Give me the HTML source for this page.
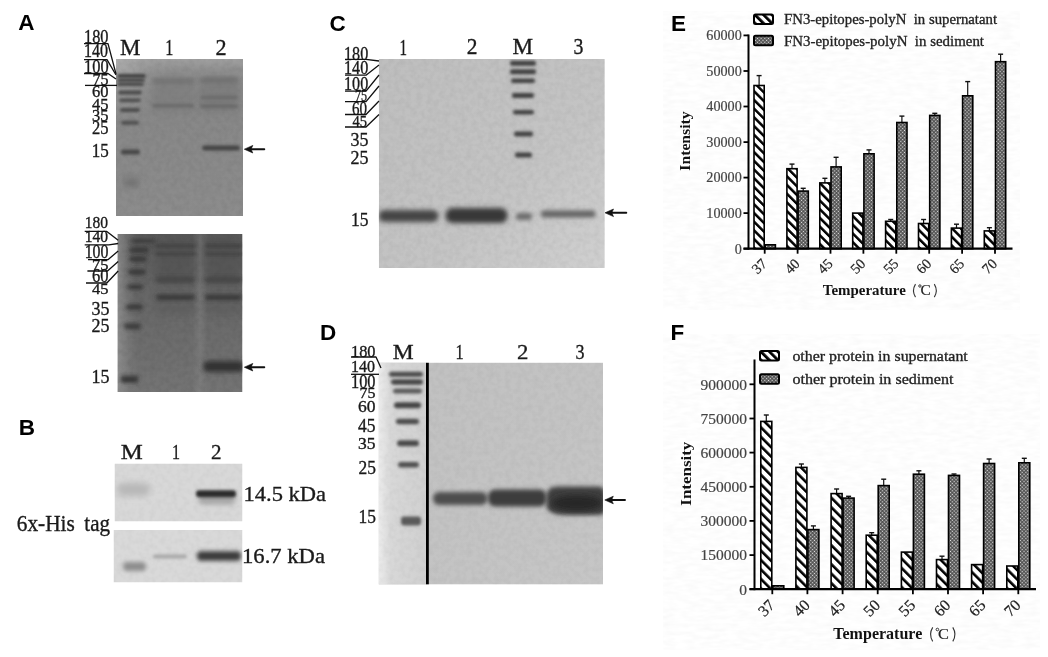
<!DOCTYPE html>
<html><head><meta charset="utf-8">
<style>
html,body{margin:0;padding:0;background:#fff;width:1048px;height:657px;overflow:hidden}
svg{display:block;will-change:transform}
.ps{font-family:"Liberation Sans",sans-serif;font-weight:bold;font-size:22.5px;fill:#000}
.sf{font-family:"Liberation Serif",serif}
.sb{font-family:"Liberation Serif",serif;font-weight:bold}
</style></head><body>
<svg width="1048" height="657" viewBox="0 0 1048 657">
<defs>
<clipPath id="cA1"><rect x="116" y="59" width="127" height="157"/></clipPath>
<clipPath id="cA2"><rect x="117.5" y="234" width="125" height="158"/></clipPath>
<clipPath id="cB1"><rect x="114.5" y="463.5" width="128" height="58"/></clipPath>
<clipPath id="cB2"><rect x="113.5" y="530" width="129" height="52.5"/></clipPath>
<clipPath id="cC"><rect x="378.8" y="59" width="226" height="209"/></clipPath>
<clipPath id="cD"><rect x="378.6" y="362.6" width="224.4" height="222"/></clipPath>
<filter id="g14" x="-50%" y="-100%" width="200%" height="300%"><feGaussianBlur stdDeviation="1.4"/></filter>
<filter id="g15" x="-50%" y="-100%" width="200%" height="300%"><feGaussianBlur stdDeviation="1.5"/></filter>
<filter id="g16" x="-50%" y="-100%" width="200%" height="300%"><feGaussianBlur stdDeviation="1.6"/></filter>
<filter id="g18" x="-50%" y="-100%" width="200%" height="300%"><feGaussianBlur stdDeviation="1.8"/></filter>
<filter id="g19" x="-50%" y="-100%" width="200%" height="300%"><feGaussianBlur stdDeviation="1.9"/></filter>
<filter id="g20" x="-50%" y="-100%" width="200%" height="300%"><feGaussianBlur stdDeviation="2.0"/></filter>
<filter id="g22" x="-50%" y="-100%" width="200%" height="300%"><feGaussianBlur stdDeviation="2.2"/></filter>
<filter id="g24" x="-50%" y="-100%" width="200%" height="300%"><feGaussianBlur stdDeviation="2.4"/></filter>
<filter id="g25" x="-50%" y="-100%" width="200%" height="300%"><feGaussianBlur stdDeviation="2.5"/></filter>
<filter id="g28" x="-50%" y="-100%" width="200%" height="300%"><feGaussianBlur stdDeviation="2.8"/></filter>
<filter id="g30" x="-50%" y="-100%" width="200%" height="300%"><feGaussianBlur stdDeviation="3.0"/></filter>
<filter id="g40" x="-50%" y="-100%" width="200%" height="300%"><feGaussianBlur stdDeviation="4.0"/></filter>
<filter id="g50" x="-50%" y="-100%" width="200%" height="300%"><feGaussianBlur stdDeviation="5.0"/></filter>
<pattern id="hatchE" patternUnits="userSpaceOnUse" width="6.15" height="6.15" patternTransform="rotate(-45)"><rect width="6.15" height="6.15" fill="#fff"/><rect width="2.5" height="6.15" fill="#000"/></pattern>
<pattern id="hatchF" patternUnits="userSpaceOnUse" width="6.7" height="6.7" patternTransform="rotate(-45)"><rect width="6.7" height="6.7" fill="#fff"/><rect width="2.6" height="6.7" fill="#000"/></pattern>
<pattern id="hatchL" patternUnits="userSpaceOnUse" width="6" height="6" patternTransform="rotate(-45)"><rect width="6" height="6" fill="#fff"/><rect width="2.8" height="6" fill="#000"/></pattern>
<pattern id="dots" patternUnits="userSpaceOnUse" width="2.6" height="2.6" patternTransform="rotate(45)"><rect width="2.6" height="2.6" fill="#4a4a4a"/><rect x="0.6" y="0.6" width="1.3" height="1.3" fill="#e8e8e8"/></pattern>
<linearGradient id="gA1" x1="0" y1="0" x2="0" y2="1">
<stop offset="0" stop-color="#a0a0a0"/><stop offset="0.07" stop-color="#909090"/><stop offset="0.4" stop-color="#888"/><stop offset="1" stop-color="#8c8c8c"/></linearGradient>
<radialGradient id="gA1b" cx="0" cy="0" r="0.4"><stop offset="0" stop-color="#b4b4b4" stop-opacity="0.8"/><stop offset="1" stop-color="#999" stop-opacity="0"/></radialGradient>
<linearGradient id="gA2" x1="0" y1="0" x2="0" y2="1">
<stop offset="0" stop-color="#5c5c5c"/><stop offset="0.45" stop-color="#686868"/><stop offset="1" stop-color="#747474"/></linearGradient>
<linearGradient id="gA2b" x1="0" y1="0" x2="1" y2="0">
<stop offset="0" stop-color="#9a9a9a" stop-opacity="0.7"/><stop offset="0.15" stop-color="#8a8a8a" stop-opacity="0"/><stop offset="0.6" stop-color="#888" stop-opacity="0"/><stop offset="0.66" stop-color="#8a8a8a" stop-opacity="0.4"/><stop offset="0.72" stop-color="#888" stop-opacity="0"/></linearGradient>
<linearGradient id="gC" x1="0" y1="0" x2="1" y2="1">
<stop offset="0" stop-color="#bebebe"/><stop offset="0.6" stop-color="#c4c4c4"/><stop offset="1" stop-color="#d0d0d0"/></linearGradient>
<filter id="noise2" x="0" y="0" width="100%" height="100%"><feTurbulence type="fractalNoise" baseFrequency="0.08 0.25" numOctaves="2" seed="7"/><feColorMatrix type="matrix" values="0 0 0 0 0  0 0 0 0 0  0 0 0 0 0  0 0 0 1.8 -0.5"/></filter>
<filter id="noise" x="0" y="0" width="100%" height="100%"><feTurbulence type="fractalNoise" baseFrequency="0.18" numOctaves="2" seed="3"/><feColorMatrix type="matrix" values="0 0 0 0 0  0 0 0 0 0  0 0 0 0 0  0 0 0 1.6 -0.55"/></filter>
<linearGradient id="gD" x1="0" y1="0" x2="1" y2="1">
<stop offset="0" stop-color="#c0c0c0"/><stop offset="1" stop-color="#c6c6c6"/></linearGradient>
<linearGradient id="gDm" x1="0" y1="0" x2="1" y2="0">
<stop offset="0" stop-color="#ececec"/><stop offset="0.25" stop-color="#d8d8d8"/><stop offset="1" stop-color="#d0d0d0"/></linearGradient>
</defs>
<rect width="1048" height="657" fill="#fff"/>
<text class="ps" x="18.3" y="30.0">A</text>
<text class="ps" x="18.8" y="435">B</text>
<text class="ps" x="329.5" y="30.6">C</text>
<text class="ps" x="320" y="340">D</text>
<text class="ps" x="671" y="30.7">E</text>
<text class="ps" x="670.5" y="339.8">F</text>
<g clip-path="url(#cA1)">
<rect x="116" y="59" width="127" height="157" fill="url(#gA1)"/>
<rect x="116" y="59" width="127" height="157" fill="url(#gA1b)"/>
<rect x="116" y="59" width="127" height="157" fill="#000" opacity="0.06" filter="url(#noise)"/>
<rect x="150.0" y="77.0" width="46.0" height="36.0" rx="4.0" fill="#737373" opacity="0.45" filter="url(#g40)"/>
<rect x="199.0" y="77.0" width="41.0" height="36.0" rx="4.0" fill="#707070" opacity="0.5" filter="url(#g40)"/>
<rect x="117.0" y="74.0" width="29.0" height="4.0" rx="2.0" fill="#404040" opacity="1" filter="url(#g14)"/>
<rect x="117.0" y="78.5" width="28.0" height="3.5" rx="2.0" fill="#444" opacity="1" filter="url(#g14)"/>
<rect x="117.0" y="82.5" width="27.0" height="3.5" rx="2.0" fill="#454545" opacity="1" filter="url(#g14)"/>
<rect x="118.0" y="90.6" width="24.0" height="4.0" rx="2.0" fill="#474747" opacity="1" filter="url(#g14)"/>
<rect x="119.0" y="98.5" width="22.0" height="3.5" rx="2.0" fill="#4a4a4a" opacity="1" filter="url(#g14)"/>
<rect x="120.0" y="108.0" width="20.0" height="4.0" rx="2.0" fill="#484848" opacity="1" filter="url(#g14)"/>
<rect x="121.0" y="120.8" width="18.0" height="4.0" rx="2.0" fill="#4e4e4e" opacity="1" filter="url(#g14)"/>
<rect x="121.0" y="149.5" width="19.0" height="5.0" rx="2.0" fill="#474747" opacity="1" filter="url(#g14)"/>
<rect x="124.0" y="178.0" width="15.0" height="9.0" rx="4.0" fill="#6e6e6e" opacity="0.9" filter="url(#g30)"/>
<rect x="152.0" y="78.5" width="42.0" height="5.0" rx="2.0" fill="#6a6a6a" opacity="0.7" filter="url(#g20)"/>
<rect x="152.0" y="104.0" width="42.0" height="3.5" rx="2.0" fill="#686868" opacity="0.9" filter="url(#g16)"/>
<rect x="200.0" y="77.5" width="38.0" height="5.0" rx="2.0" fill="#666" opacity="0.7" filter="url(#g20)"/>
<rect x="200.0" y="95.8" width="38.0" height="3.5" rx="2.0" fill="#666" opacity="0.8" filter="url(#g16)"/>
<rect x="200.0" y="104.5" width="38.0" height="3.5" rx="2.0" fill="#666" opacity="0.9" filter="url(#g16)"/>
<rect x="202.0" y="145.5" width="38.0" height="5.0" rx="3.0" fill="#454545" opacity="1" filter="url(#g18)"/>
</g>
<line x1="249.3" y1="149.2" x2="264.3" y2="149.2" stroke="#111" stroke-width="1.9" stroke-linecap="round"/>
<path d="M244.3 149.2 L252.8 145.39999999999998 L251.10000000000002 149.2 L252.8 153.0 Z" fill="#111" stroke="#111" stroke-width="0.6" stroke-linejoin="round"/>
<g clip-path="url(#cA2)">
<rect x="117.5" y="234" width="125" height="158" fill="url(#gA2)"/>
<rect x="117.5" y="234" width="125" height="158" fill="url(#gA2b)"/>
<rect x="117.5" y="234" width="125" height="158" fill="#000" opacity="0.07" filter="url(#noise)"/>
<rect x="155.0" y="235.0" width="41.0" height="50.0" rx="6.0" fill="#4a4a4a" opacity="0.45" filter="url(#g50)"/>
<rect x="205.0" y="235.0" width="37.0" height="50.0" rx="6.0" fill="#4a4a4a" opacity="0.45" filter="url(#g50)"/>
<rect x="155.0" y="303.0" width="41.0" height="12.0" rx="4.0" fill="#555" opacity="0.4" filter="url(#g30)"/>
<rect x="205.0" y="303.0" width="37.0" height="12.0" rx="4.0" fill="#555" opacity="0.4" filter="url(#g30)"/>
<rect x="130.7" y="239.2" width="24.6" height="3.5" rx="3.0" fill="#303030" opacity="1" filter="url(#g20)"/>
<rect x="129.4" y="247.5" width="19.6" height="5.0" rx="3.0" fill="#303030" opacity="1" filter="url(#g20)"/>
<rect x="129.0" y="256.5" width="18.0" height="5.0" rx="3.0" fill="#303030" opacity="1" filter="url(#g20)"/>
<rect x="128.0" y="269.5" width="18.0" height="5.0" rx="3.0" fill="#303030" opacity="1" filter="url(#g20)"/>
<rect x="127.0" y="284.8" width="16.0" height="4.5" rx="3.0" fill="#303030" opacity="1" filter="url(#g20)"/>
<rect x="126.0" y="304.5" width="17.0" height="5.0" rx="3.0" fill="#303030" opacity="1" filter="url(#g20)"/>
<rect x="124.0" y="323.8" width="17.0" height="5.0" rx="3.0" fill="#303030" opacity="1" filter="url(#g20)"/>
<rect x="120.5" y="376.1" width="18.0" height="6.5" rx="3.0" fill="#303030" opacity="1" filter="url(#g20)"/>
<rect x="155.0" y="244.0" width="41.0" height="4.0" rx="2.0" fill="#3c3c3c" opacity="0.7" filter="url(#g18)"/>
<rect x="205.0" y="244.0" width="37.0" height="4.0" rx="2.0" fill="#3c3c3c" opacity="0.7" filter="url(#g18)"/>
<rect x="155.0" y="252.0" width="41.0" height="4.0" rx="2.0" fill="#3c3c3c" opacity="0.6" filter="url(#g18)"/>
<rect x="205.0" y="252.0" width="37.0" height="4.0" rx="2.0" fill="#3c3c3c" opacity="0.6" filter="url(#g18)"/>
<rect x="156.0" y="277.6" width="39.0" height="4.5" rx="2.0" fill="#404040" opacity="0.9" filter="url(#g19)"/>
<rect x="205.0" y="277.6" width="37.0" height="4.5" rx="2.0" fill="#404040" opacity="0.9" filter="url(#g19)"/>
<rect x="156.0" y="294.6" width="39.0" height="5.5" rx="2.0" fill="#363636" opacity="1" filter="url(#g19)"/>
<rect x="205.0" y="294.6" width="37.0" height="5.5" rx="2.0" fill="#363636" opacity="1" filter="url(#g19)"/>
<rect x="203.0" y="361.0" width="41.0" height="11.0" rx="5.0" fill="#333" opacity="1" filter="url(#g28)"/>
</g>
<line x1="249.3" y1="367.2" x2="264.3" y2="367.2" stroke="#111" stroke-width="1.9" stroke-linecap="round"/>
<path d="M244.3 367.2 L252.8 363.4 L251.10000000000002 367.2 L252.8 371.0 Z" fill="#111" stroke="#111" stroke-width="0.6" stroke-linejoin="round"/>
<g clip-path="url(#cB1)">
<rect x="114.5" y="463.5" width="128" height="58" fill="#d8d8d8"/>
<rect x="114.5" y="463.5" width="128" height="58" fill="#000" opacity="0.03" filter="url(#noise)"/>
<rect x="117.0" y="483.0" width="33.0" height="13.0" rx="6.0" fill="#b8b8b8" opacity="1" filter="url(#g30)"/>
<rect x="199.0" y="493.5" width="36.0" height="11.0" rx="4.0" fill="#9a9a9a" opacity="0.8" filter="url(#g25)"/>
<rect x="196.0" y="490.3" width="40.0" height="7.0" rx="3.0" fill="#2a2a2a" opacity="1" filter="url(#g15)"/>
</g>
<g clip-path="url(#cB2)">
<rect x="113.5" y="530" width="129" height="52.5" fill="#d9d9d9"/>
<rect x="113.5" y="530" width="129" height="52.5" fill="#000" opacity="0.03" filter="url(#noise)"/>
<rect x="153.0" y="554.5" width="34.0" height="4.0" rx="2.0" fill="#a8a8a8" opacity="1" filter="url(#g15)"/>
<rect x="197.0" y="551.2" width="44.0" height="9.5" rx="4.0" fill="#3a3a3a" opacity="1" filter="url(#g20)"/>
<rect x="123.0" y="562.0" width="23.0" height="9.0" rx="4.0" fill="#8e8e8e" opacity="1" filter="url(#g22)"/>
</g>
<g clip-path="url(#cC)">
<rect x="378.8" y="59" width="226" height="209" fill="url(#gC)"/>
<rect x="378.8" y="59" width="226" height="209" fill="#000" opacity="0.05" filter="url(#noise)"/>
<rect x="378.5" y="210.0" width="60.0" height="12.0" rx="6.0" fill="#444" opacity="1" filter="url(#g24)"/>
<rect x="445.5" y="208.0" width="62.0" height="15.0" rx="7.0" fill="#383838" opacity="1" filter="url(#g24)"/>
<rect x="516.0" y="213.0" width="16.0" height="7.0" rx="3.0" fill="#6a6a6a" opacity="1" filter="url(#g20)"/>
<rect x="541.0" y="210.5" width="54.5" height="7.0" rx="3.0" fill="#636363" opacity="1" filter="url(#g20)"/>
<rect x="510.0" y="60.8" width="26.0" height="5.0" rx="2.0" fill="#404040" opacity="1" filter="url(#g16)"/>
<rect x="510.0" y="69.2" width="26.0" height="5.0" rx="2.0" fill="#404040" opacity="1" filter="url(#g16)"/>
<rect x="511.0" y="78.5" width="24.0" height="4.5" rx="2.0" fill="#404040" opacity="1" filter="url(#g16)"/>
<rect x="512.0" y="93.0" width="22.0" height="5.0" rx="2.0" fill="#404040" opacity="1" filter="url(#g16)"/>
<rect x="513.0" y="110.0" width="21.0" height="4.5" rx="2.0" fill="#404040" opacity="1" filter="url(#g16)"/>
<rect x="514.0" y="131.5" width="19.0" height="5.0" rx="2.0" fill="#404040" opacity="1" filter="url(#g16)"/>
<rect x="515.0" y="152.5" width="17.0" height="5.0" rx="2.0" fill="#404040" opacity="1" filter="url(#g16)"/>
</g>
<line x1="610" y1="212.8" x2="626.3" y2="212.8" stroke="#111" stroke-width="1.9" stroke-linecap="round"/>
<path d="M605 212.8 L613.5 209.0 L611.8 212.8 L613.5 216.60000000000002 Z" fill="#111" stroke="#111" stroke-width="0.6" stroke-linejoin="round"/>
<g clip-path="url(#cD)">
<rect x="378.6" y="362.6" width="224.4" height="222" fill="url(#gD)"/>
<rect x="378.6" y="362.6" width="48" height="222" fill="url(#gDm)"/>
<rect x="378.6" y="362.6" width="224.4" height="222" fill="#000" opacity="0.04" filter="url(#noise)"/>
<rect x="426" y="362.6" width="2.8" height="222" fill="#000"/>
<rect x="389.0" y="371.8" width="34.0" height="5.0" rx="3.0" fill="#484848" opacity="1" filter="url(#g18)"/>
<rect x="391.0" y="379.2" width="32.0" height="5.5" rx="3.0" fill="#444" opacity="1" filter="url(#g18)"/>
<rect x="393.0" y="388.5" width="29.0" height="5.0" rx="3.0" fill="#5a5a5a" opacity="1" filter="url(#g18)"/>
<rect x="394.0" y="402.3" width="27.0" height="6.0" rx="3.0" fill="#454545" opacity="1" filter="url(#g18)"/>
<rect x="396.0" y="418.8" width="23.0" height="5.5" rx="3.0" fill="#4c4c4c" opacity="1" filter="url(#g18)"/>
<rect x="397.0" y="440.3" width="22.0" height="6.0" rx="3.0" fill="#4a4a4a" opacity="1" filter="url(#g18)"/>
<rect x="398.0" y="461.9" width="21.0" height="5.5" rx="3.0" fill="#505050" opacity="1" filter="url(#g18)"/>
<rect x="401.0" y="516.5" width="20.0" height="9.0" rx="3.0" fill="#5a5a5a" opacity="1" filter="url(#g18)"/>
<rect x="433.0" y="491.9" width="54.5" height="13.0" rx="6.0" fill="#4e4e4e" opacity="1" filter="url(#g22)"/>
<rect x="488.0" y="489.5" width="58.5" height="17.0" rx="7.0" fill="#3e3e3e" opacity="1" filter="url(#g22)"/>
<path d="M546.5 496 Q546.5 486.5 559 486.5 L598 486.5 Q605 486.5 605 494 L605 511 Q605 515 598 515 L566 515 Q546.5 515 546.5 505 Z" fill="#404040" filter="url(#g20)"/>
<ellipse cx="577" cy="503" rx="26" ry="8" fill="#262626" filter="url(#g30)"/>
</g>
<line x1="609.8" y1="500" x2="625" y2="500" stroke="#111" stroke-width="1.9" stroke-linecap="round"/>
<path d="M604.8 500 L613.3 496.2 L611.5999999999999 500 L613.3 503.8 Z" fill="#111" stroke="#111" stroke-width="0.6" stroke-linejoin="round"/>
<text class="sf" x="119.9" y="54.8" font-size="23.5" fill="#1a1a1a" stroke="#1a1a1a" stroke-width="0.35" textLength="20.5" lengthAdjust="spacingAndGlyphs">M</text>
<text class="sf" x="165.2" y="54.8" font-size="23.5" fill="#1a1a1a" stroke="#1a1a1a" stroke-width="0.35" textLength="8.1" lengthAdjust="spacingAndGlyphs">1</text>
<text class="sf" x="215.5" y="54.8" font-size="23.5" fill="#1a1a1a" stroke="#1a1a1a" stroke-width="0.35" textLength="11.1" lengthAdjust="spacingAndGlyphs">2</text>
<text class="sf" x="84" y="42.8" font-size="18.5" fill="#1a1a1a" stroke="#1a1a1a" stroke-width="0.35" textLength="24.5" lengthAdjust="spacingAndGlyphs">180</text>
<text class="sf" x="84" y="57.4" font-size="18.5" fill="#1a1a1a" stroke="#1a1a1a" stroke-width="0.35" textLength="24.0" lengthAdjust="spacingAndGlyphs">140</text>
<text class="sf" x="84" y="73.4" font-size="19" fill="#1a1a1a" stroke="#1a1a1a" stroke-width="0.35" textLength="24.6" lengthAdjust="spacingAndGlyphs">100</text>
<text class="sf" x="92.6" y="85.4" font-size="16" fill="#1a1a1a" stroke="#1a1a1a" stroke-width="0.35" textLength="16.0" lengthAdjust="spacingAndGlyphs">75</text>
<text class="sf" x="92" y="97" font-size="16.5" fill="#1a1a1a" stroke="#1a1a1a" stroke-width="0.35" textLength="16.5" lengthAdjust="spacingAndGlyphs">60</text>
<text class="sf" x="92" y="110" font-size="16" fill="#1a1a1a" stroke="#1a1a1a" stroke-width="0.35" textLength="16.5" lengthAdjust="spacingAndGlyphs">45</text>
<text class="sf" x="92" y="120.6" font-size="17" fill="#1a1a1a" stroke="#1a1a1a" stroke-width="0.35" textLength="16.5" lengthAdjust="spacingAndGlyphs">35</text>
<text class="sf" x="92" y="134" font-size="18" fill="#1a1a1a" stroke="#1a1a1a" stroke-width="0.35" textLength="16.5" lengthAdjust="spacingAndGlyphs">25</text>
<text class="sf" x="91.8" y="157.4" font-size="18" fill="#1a1a1a" stroke="#1a1a1a" stroke-width="0.35" textLength="17.0" lengthAdjust="spacingAndGlyphs">15</text>
<path d="M84 43.7 L108 43.7 L116 74" fill="none" stroke="#111" stroke-width="1.3" stroke-linejoin="round"/>
<path d="M84 59.7 L107 59.7 L116 75" fill="none" stroke="#111" stroke-width="1.3" stroke-linejoin="round"/>
<path d="M84 73.5 L108 73.5 L116 79" fill="none" stroke="#111" stroke-width="1.3" stroke-linejoin="round"/>
<path d="M85 85.4 L117 85.4" fill="none" stroke="#111" stroke-width="1.3" stroke-linejoin="round"/>
<text class="sf" x="84.7" y="227.6" font-size="17.5" fill="#1a1a1a" stroke="#1a1a1a" stroke-width="0.35" textLength="23.3" lengthAdjust="spacingAndGlyphs">180</text>
<text class="sf" x="84.7" y="241.6" font-size="16" fill="#1a1a1a" stroke="#1a1a1a" stroke-width="0.35" textLength="23.3" lengthAdjust="spacingAndGlyphs">140</text>
<text class="sf" x="84.7" y="257.8" font-size="18" fill="#1a1a1a" stroke="#1a1a1a" stroke-width="0.35" textLength="23.8" lengthAdjust="spacingAndGlyphs">100</text>
<text class="sf" x="92" y="269.8" font-size="15.5" fill="#1a1a1a" stroke="#1a1a1a" stroke-width="0.35" textLength="16.5" lengthAdjust="spacingAndGlyphs">75</text>
<text class="sf" x="92" y="281.8" font-size="18" fill="#1a1a1a" stroke="#1a1a1a" stroke-width="0.35" textLength="16.5" lengthAdjust="spacingAndGlyphs">60</text>
<text class="sf" x="92" y="294" font-size="15.5" fill="#1a1a1a" stroke="#1a1a1a" stroke-width="0.35" textLength="16.5" lengthAdjust="spacingAndGlyphs">45</text>
<text class="sf" x="91.5" y="314.6" font-size="18.5" fill="#1a1a1a" stroke="#1a1a1a" stroke-width="0.35" textLength="18.0" lengthAdjust="spacingAndGlyphs">35</text>
<text class="sf" x="91.5" y="332.4" font-size="18.5" fill="#1a1a1a" stroke="#1a1a1a" stroke-width="0.35" textLength="18.0" lengthAdjust="spacingAndGlyphs">25</text>
<text class="sf" x="91.5" y="383.2" font-size="19" fill="#1a1a1a" stroke="#1a1a1a" stroke-width="0.35" textLength="18.0" lengthAdjust="spacingAndGlyphs">15</text>
<path d="M84.7 231.4 L106.8 231.4 L118.2 240.2" fill="none" stroke="#111" stroke-width="1.3" stroke-linejoin="round"/>
<path d="M84.7 244.8 L108.8 244.8 L118.2 243.5" fill="none" stroke="#111" stroke-width="1.3" stroke-linejoin="round"/>
<path d="M88 259.6 L108.2 259.6 L118.2 250.9" fill="none" stroke="#111" stroke-width="1.3" stroke-linejoin="round"/>
<path d="M87.4 271 L107.5 271 L118.2 261.6" fill="none" stroke="#111" stroke-width="1.3" stroke-linejoin="round"/>
<path d="M86 283 L106.8 283 L118.2 271" fill="none" stroke="#111" stroke-width="1.3" stroke-linejoin="round"/>
<text class="sf" x="120.7" y="458.5" font-size="21" fill="#1a1a1a" stroke="#1a1a1a" stroke-width="0.35" textLength="22.0" lengthAdjust="spacingAndGlyphs">M</text>
<text class="sf" x="172" y="458.5" font-size="21" fill="#1a1a1a" stroke="#1a1a1a" stroke-width="0.35" textLength="8.0" lengthAdjust="spacingAndGlyphs">1</text>
<text class="sf" x="211" y="458.5" font-size="21" fill="#1a1a1a" stroke="#1a1a1a" stroke-width="0.35" textLength="10.5" lengthAdjust="spacingAndGlyphs">2</text>
<text class="sf" x="243.5" y="501" font-size="22" fill="#1a1a1a" stroke="#1a1a1a" stroke-width="0.35" textLength="82.5" lengthAdjust="spacingAndGlyphs">14.5 kDa</text>
<text class="sf" x="242" y="563" font-size="22" fill="#1a1a1a" stroke="#1a1a1a" stroke-width="0.35" textLength="83.0" lengthAdjust="spacingAndGlyphs">16.7 kDa</text>
<text class="sf" x="16.8" y="530.7" font-size="22.5" fill="#1a1a1a" stroke="#1a1a1a" stroke-width="0.35" textLength="58.0" lengthAdjust="spacingAndGlyphs">6x-His</text>
<text class="sf" x="84.3" y="530.7" font-size="22.5" fill="#1a1a1a" stroke="#1a1a1a" stroke-width="0.35" textLength="25.7" lengthAdjust="spacingAndGlyphs">tag</text>
<text class="sf" x="399.5" y="54.8" font-size="23" fill="#1a1a1a" stroke="#1a1a1a" stroke-width="0.35" textLength="7.5" lengthAdjust="spacingAndGlyphs">1</text>
<text class="sf" x="466.7" y="54.4" font-size="23" fill="#1a1a1a" stroke="#1a1a1a" stroke-width="0.35" textLength="10.7" lengthAdjust="spacingAndGlyphs">2</text>
<text class="sf" x="512.5" y="54.4" font-size="23" fill="#1a1a1a" stroke="#1a1a1a" stroke-width="0.35" textLength="20.6" lengthAdjust="spacingAndGlyphs">M</text>
<text class="sf" x="573.6" y="54.4" font-size="23" fill="#1a1a1a" stroke="#1a1a1a" stroke-width="0.35" textLength="9.9" lengthAdjust="spacingAndGlyphs">3</text>
<text class="sf" x="344" y="60.1" font-size="19" fill="#1a1a1a" stroke="#1a1a1a" stroke-width="0.35" textLength="24.2" lengthAdjust="spacingAndGlyphs">180</text>
<text class="sf" x="344" y="73.5" font-size="18" fill="#1a1a1a" stroke="#1a1a1a" stroke-width="0.35" textLength="24.2" lengthAdjust="spacingAndGlyphs">140</text>
<text class="sf" x="344" y="90.3" font-size="19.5" fill="#1a1a1a" stroke="#1a1a1a" stroke-width="0.35" textLength="24.2" lengthAdjust="spacingAndGlyphs">100</text>
<text class="sf" x="355" y="101.2" font-size="16" fill="#1a1a1a" stroke="#1a1a1a" stroke-width="0.35" textLength="12.0" lengthAdjust="spacingAndGlyphs">75</text>
<text class="sf" x="352" y="114.5" font-size="18" fill="#1a1a1a" stroke="#1a1a1a" stroke-width="0.35" textLength="15.0" lengthAdjust="spacingAndGlyphs">60</text>
<text class="sf" x="352.5" y="127" font-size="17" fill="#1a1a1a" stroke="#1a1a1a" stroke-width="0.35" textLength="14.5" lengthAdjust="spacingAndGlyphs">45</text>
<text class="sf" x="350.5" y="146" font-size="19.5" fill="#1a1a1a" stroke="#1a1a1a" stroke-width="0.35" textLength="18.0" lengthAdjust="spacingAndGlyphs">35</text>
<text class="sf" x="350.5" y="164.4" font-size="19" fill="#1a1a1a" stroke="#1a1a1a" stroke-width="0.35" textLength="18.0" lengthAdjust="spacingAndGlyphs">25</text>
<text class="sf" x="351" y="225.6" font-size="19.5" fill="#1a1a1a" stroke="#1a1a1a" stroke-width="0.35" textLength="17.5" lengthAdjust="spacingAndGlyphs">15</text>
<path d="M345 59.3 L366 59.3 L379 61" fill="none" stroke="#111" stroke-width="1.3" stroke-linejoin="round"/>
<path d="M345 75.2 L366 75.2 L379 65" fill="none" stroke="#111" stroke-width="1.3" stroke-linejoin="round"/>
<path d="M345 91.1 L366 91.1 L379 75" fill="none" stroke="#111" stroke-width="1.3" stroke-linejoin="round"/>
<path d="M345 101.7 L366 101.7 L379 86" fill="none" stroke="#111" stroke-width="1.3" stroke-linejoin="round"/>
<path d="M345 114.5 L366 114.5 L379 101" fill="none" stroke="#111" stroke-width="1.3" stroke-linejoin="round"/>
<path d="M345 127 L366 127 L379 114.5" fill="none" stroke="#111" stroke-width="1.3" stroke-linejoin="round"/>
<text class="sf" x="392.8" y="359.3" font-size="22" fill="#1a1a1a" stroke="#1a1a1a" stroke-width="0.35" textLength="20.9" lengthAdjust="spacingAndGlyphs">M</text>
<text class="sf" x="455.4" y="359.3" font-size="22" fill="#1a1a1a" stroke="#1a1a1a" stroke-width="0.35" textLength="8.1" lengthAdjust="spacingAndGlyphs">1</text>
<text class="sf" x="517" y="359.3" font-size="22" fill="#1a1a1a" stroke="#1a1a1a" stroke-width="0.35" textLength="11.4" lengthAdjust="spacingAndGlyphs">2</text>
<text class="sf" x="575.4" y="359.3" font-size="22" fill="#1a1a1a" stroke="#1a1a1a" stroke-width="0.35" textLength="9.0" lengthAdjust="spacingAndGlyphs">3</text>
<text class="sf" x="351" y="356.8" font-size="16" fill="#1a1a1a" stroke="#1a1a1a" stroke-width="0.35" textLength="24.5" lengthAdjust="spacingAndGlyphs">180</text>
<text class="sf" x="351" y="372" font-size="17" fill="#1a1a1a" stroke="#1a1a1a" stroke-width="0.35" textLength="24.0" lengthAdjust="spacingAndGlyphs">140</text>
<text class="sf" x="351" y="387.8" font-size="18" fill="#1a1a1a" stroke="#1a1a1a" stroke-width="0.35" textLength="24.5" lengthAdjust="spacingAndGlyphs">100</text>
<text class="sf" x="359.5" y="397.8" font-size="15" fill="#1a1a1a" stroke="#1a1a1a" stroke-width="0.35" textLength="16.0" lengthAdjust="spacingAndGlyphs">75</text>
<text class="sf" x="358" y="412.2" font-size="17" fill="#1a1a1a" stroke="#1a1a1a" stroke-width="0.35" textLength="17.5" lengthAdjust="spacingAndGlyphs">60</text>
<text class="sf" x="358" y="431.5" font-size="18.5" fill="#1a1a1a" stroke="#1a1a1a" stroke-width="0.35" textLength="17.5" lengthAdjust="spacingAndGlyphs">45</text>
<text class="sf" x="358" y="449" font-size="16" fill="#1a1a1a" stroke="#1a1a1a" stroke-width="0.35" textLength="17.5" lengthAdjust="spacingAndGlyphs">35</text>
<text class="sf" x="358.6" y="474" font-size="18" fill="#1a1a1a" stroke="#1a1a1a" stroke-width="0.35" textLength="17.4" lengthAdjust="spacingAndGlyphs">25</text>
<text class="sf" x="358.6" y="523.2" font-size="19" fill="#1a1a1a" stroke="#1a1a1a" stroke-width="0.35" textLength="17.4" lengthAdjust="spacingAndGlyphs">15</text>
<path d="M351 357 L376 357 L381 368" fill="none" stroke="#111" stroke-width="1.3" stroke-linejoin="round"/>
<path d="M351 374.3 L379 374.3" fill="none" stroke="#111" stroke-width="1.3" stroke-linejoin="round"/>
<rect x="663" y="11" width="357" height="299" fill="#000" opacity="0.018" filter="url(#noise2)"/>
<rect x="663" y="334" width="377" height="316" fill="#000" opacity="0.018" filter="url(#noise2)"/>
<line x1="759.1" y1="85.5" x2="759.1" y2="75.6" stroke="#111" stroke-width="1.2"/>
<line x1="756.6" y1="75.6" x2="761.6" y2="75.6" stroke="#111" stroke-width="1.4"/>
<rect x="754.0" y="85.5" width="10.2" height="163.2" fill="url(#hatchE)" stroke="#000" stroke-width="1.6"/>
<rect x="765.2" y="244.8" width="10.2" height="3.9" fill="url(#dots)" stroke="#000" stroke-width="1.6"/>
<line x1="792.0" y1="168.7" x2="792.0" y2="164.1" stroke="#111" stroke-width="1.2"/>
<line x1="789.5" y1="164.1" x2="794.5" y2="164.1" stroke="#111" stroke-width="1.4"/>
<rect x="786.9" y="168.7" width="10.2" height="80.0" fill="url(#hatchE)" stroke="#000" stroke-width="1.6"/>
<line x1="803.2" y1="191.1" x2="803.2" y2="188.3" stroke="#111" stroke-width="1.2"/>
<line x1="800.7" y1="188.3" x2="805.7" y2="188.3" stroke="#111" stroke-width="1.4"/>
<rect x="798.1" y="191.1" width="10.2" height="57.6" fill="url(#dots)" stroke="#000" stroke-width="1.6"/>
<line x1="824.9" y1="182.9" x2="824.9" y2="178.3" stroke="#111" stroke-width="1.2"/>
<line x1="822.4" y1="178.3" x2="827.4" y2="178.3" stroke="#111" stroke-width="1.4"/>
<rect x="819.8" y="182.9" width="10.2" height="65.8" fill="url(#hatchE)" stroke="#000" stroke-width="1.6"/>
<line x1="836.1" y1="166.9" x2="836.1" y2="157.3" stroke="#111" stroke-width="1.2"/>
<line x1="833.6" y1="157.3" x2="838.6" y2="157.3" stroke="#111" stroke-width="1.4"/>
<rect x="831.0" y="166.9" width="10.2" height="81.8" fill="url(#dots)" stroke="#000" stroke-width="1.6"/>
<rect x="852.7" y="213.1" width="10.2" height="35.6" fill="url(#hatchE)" stroke="#000" stroke-width="1.6"/>
<line x1="869.0" y1="153.8" x2="869.0" y2="149.9" stroke="#111" stroke-width="1.2"/>
<line x1="866.5" y1="149.9" x2="871.5" y2="149.9" stroke="#111" stroke-width="1.4"/>
<rect x="863.9" y="153.8" width="10.2" height="94.9" fill="url(#dots)" stroke="#000" stroke-width="1.6"/>
<line x1="890.7" y1="221.3" x2="890.7" y2="219.5" stroke="#111" stroke-width="1.2"/>
<line x1="888.2" y1="219.5" x2="893.2" y2="219.5" stroke="#111" stroke-width="1.4"/>
<rect x="885.6" y="221.3" width="10.2" height="27.4" fill="url(#hatchE)" stroke="#000" stroke-width="1.6"/>
<line x1="901.9" y1="122.5" x2="901.9" y2="116.1" stroke="#111" stroke-width="1.2"/>
<line x1="899.4" y1="116.1" x2="904.4" y2="116.1" stroke="#111" stroke-width="1.4"/>
<rect x="896.8" y="122.5" width="10.2" height="126.2" fill="url(#dots)" stroke="#000" stroke-width="1.6"/>
<line x1="923.6" y1="223.5" x2="923.6" y2="219.5" stroke="#111" stroke-width="1.2"/>
<line x1="921.1" y1="219.5" x2="926.1" y2="219.5" stroke="#111" stroke-width="1.4"/>
<rect x="918.5" y="223.5" width="10.2" height="25.2" fill="url(#hatchE)" stroke="#000" stroke-width="1.6"/>
<line x1="934.8" y1="115.4" x2="934.8" y2="113.3" stroke="#111" stroke-width="1.2"/>
<line x1="932.3" y1="113.3" x2="937.3" y2="113.3" stroke="#111" stroke-width="1.4"/>
<rect x="929.7" y="115.4" width="10.2" height="133.3" fill="url(#dots)" stroke="#000" stroke-width="1.6"/>
<line x1="956.5" y1="228.1" x2="956.5" y2="224.2" stroke="#111" stroke-width="1.2"/>
<line x1="954.0" y1="224.2" x2="959.0" y2="224.2" stroke="#111" stroke-width="1.4"/>
<rect x="951.4" y="228.1" width="10.2" height="20.6" fill="url(#hatchE)" stroke="#000" stroke-width="1.6"/>
<line x1="967.7" y1="95.8" x2="967.7" y2="81.6" stroke="#111" stroke-width="1.2"/>
<line x1="965.2" y1="81.6" x2="970.2" y2="81.6" stroke="#111" stroke-width="1.4"/>
<rect x="962.6" y="95.8" width="10.2" height="152.9" fill="url(#dots)" stroke="#000" stroke-width="1.6"/>
<line x1="989.4" y1="230.9" x2="989.4" y2="227.7" stroke="#111" stroke-width="1.2"/>
<line x1="986.9" y1="227.7" x2="991.9" y2="227.7" stroke="#111" stroke-width="1.4"/>
<rect x="984.3" y="230.9" width="10.2" height="17.8" fill="url(#hatchE)" stroke="#000" stroke-width="1.6"/>
<line x1="1000.6" y1="61.7" x2="1000.6" y2="54.2" stroke="#111" stroke-width="1.2"/>
<line x1="998.1" y1="54.2" x2="1003.1" y2="54.2" stroke="#111" stroke-width="1.4"/>
<rect x="995.5" y="61.7" width="10.2" height="187.0" fill="url(#dots)" stroke="#000" stroke-width="1.6"/>
<line x1="748.5" y1="34.5" x2="748.5" y2="249.7" stroke="#000" stroke-width="2"/>
<line x1="743.5" y1="248.7" x2="1012.5" y2="248.7" stroke="#000" stroke-width="2.2"/>
<line x1="743.5" y1="248.7" x2="748.5" y2="248.7" stroke="#000" stroke-width="1.8"/>
<text class="sf" x="741.8" y="253.5" font-size="14.2" fill="#444" stroke="#444" stroke-width="0.2" text-anchor="end">0</text>
<line x1="743.5" y1="213.1" x2="748.5" y2="213.1" stroke="#000" stroke-width="1.8"/>
<text class="sf" x="741.8" y="218.0" font-size="14.2" fill="#444" stroke="#444" stroke-width="0.2" text-anchor="end">10000</text>
<line x1="743.5" y1="177.6" x2="748.5" y2="177.6" stroke="#000" stroke-width="1.8"/>
<text class="sf" x="741.8" y="182.4" font-size="14.2" fill="#444" stroke="#444" stroke-width="0.2" text-anchor="end">20000</text>
<line x1="743.5" y1="142.1" x2="748.5" y2="142.1" stroke="#000" stroke-width="1.8"/>
<text class="sf" x="741.8" y="146.9" font-size="14.2" fill="#444" stroke="#444" stroke-width="0.2" text-anchor="end">30000</text>
<line x1="743.5" y1="106.5" x2="748.5" y2="106.5" stroke="#000" stroke-width="1.8"/>
<text class="sf" x="741.8" y="111.3" font-size="14.2" fill="#444" stroke="#444" stroke-width="0.2" text-anchor="end">40000</text>
<line x1="743.5" y1="71.0" x2="748.5" y2="71.0" stroke="#000" stroke-width="1.8"/>
<text class="sf" x="741.8" y="75.8" font-size="14.2" fill="#444" stroke="#444" stroke-width="0.2" text-anchor="end">50000</text>
<line x1="743.5" y1="35.4" x2="748.5" y2="35.4" stroke="#000" stroke-width="1.8"/>
<text class="sf" x="741.8" y="40.2" font-size="14.2" fill="#444" stroke="#444" stroke-width="0.2" text-anchor="end">60000</text>
<line x1="764.7" y1="248.7" x2="764.7" y2="253.7" stroke="#000" stroke-width="1.8"/>
<text class="sf" x="759.2" y="271.1" font-size="14.5" fill="#222" stroke="#222" stroke-width="0.2" text-anchor="middle" transform="rotate(-45 759.2 266.2)">37</text>
<line x1="797.6" y1="248.7" x2="797.6" y2="253.7" stroke="#000" stroke-width="1.8"/>
<text class="sf" x="792.1" y="271.1" font-size="14.5" fill="#222" stroke="#222" stroke-width="0.2" text-anchor="middle" transform="rotate(-45 792.1 266.2)">40</text>
<line x1="830.5" y1="248.7" x2="830.5" y2="253.7" stroke="#000" stroke-width="1.8"/>
<text class="sf" x="825.0" y="271.1" font-size="14.5" fill="#222" stroke="#222" stroke-width="0.2" text-anchor="middle" transform="rotate(-45 825.0 266.2)">45</text>
<line x1="863.4" y1="248.7" x2="863.4" y2="253.7" stroke="#000" stroke-width="1.8"/>
<text class="sf" x="857.9" y="271.1" font-size="14.5" fill="#222" stroke="#222" stroke-width="0.2" text-anchor="middle" transform="rotate(-45 857.9 266.2)">50</text>
<line x1="896.3" y1="248.7" x2="896.3" y2="253.7" stroke="#000" stroke-width="1.8"/>
<text class="sf" x="890.8" y="271.1" font-size="14.5" fill="#222" stroke="#222" stroke-width="0.2" text-anchor="middle" transform="rotate(-45 890.8 266.2)">55</text>
<line x1="929.2" y1="248.7" x2="929.2" y2="253.7" stroke="#000" stroke-width="1.8"/>
<text class="sf" x="923.7" y="271.1" font-size="14.5" fill="#222" stroke="#222" stroke-width="0.2" text-anchor="middle" transform="rotate(-45 923.7 266.2)">60</text>
<line x1="962.1" y1="248.7" x2="962.1" y2="253.7" stroke="#000" stroke-width="1.8"/>
<text class="sf" x="956.6" y="271.1" font-size="14.5" fill="#222" stroke="#222" stroke-width="0.2" text-anchor="middle" transform="rotate(-45 956.6 266.2)">65</text>
<line x1="995.0" y1="248.7" x2="995.0" y2="253.7" stroke="#000" stroke-width="1.8"/>
<text class="sf" x="989.5" y="271.1" font-size="14.5" fill="#222" stroke="#222" stroke-width="0.2" text-anchor="middle" transform="rotate(-45 989.5 266.2)">70</text>
<text class="sb" x="822.8" y="294.6" font-size="15.0" fill="#111" textLength="83.0" lengthAdjust="spacingAndGlyphs">Temperature</text>
<path d="M915.5 284.1 Q911.5 290.6 915.5 297.1" fill="none" stroke="#333" stroke-width="1.1"/>
<circle cx="919.9" cy="286.0" r="1.2" fill="none" stroke="#222" stroke-width="0.9"/>
<text class="sf" x="920.5" y="294.6" font-size="14.0" fill="#222" stroke="#222" stroke-width="0.2" textLength="10.2" lengthAdjust="spacingAndGlyphs">C</text>
<path d="M934.3 284.1 Q938.3 290.6 934.3 297.1" fill="none" stroke="#333" stroke-width="1.1"/>
<text class="sb" x="0" y="0" font-size="15.5" fill="#111" text-anchor="middle" textLength="59.5" lengthAdjust="spacingAndGlyphs" transform="translate(690 141) rotate(-90)">Intensity</text>
<rect x="754" y="14.5" width="19" height="9.5" rx="1.5" fill="url(#hatchL)" stroke="#000" stroke-width="2"/>
<rect x="754" y="35.8" width="19" height="9.5" rx="1.5" fill="url(#dots)" stroke="#000" stroke-width="2"/>
<text class="sf" x="784" y="23.9" font-size="14" fill="#222" stroke="#222" stroke-width="0.3" textLength="213" lengthAdjust="spacingAndGlyphs">FN3-epitopes-polyN&#160; in supernatant</text>
<text class="sf" x="784" y="45.6" font-size="14" fill="#222" stroke="#222" stroke-width="0.3" textLength="200" lengthAdjust="spacingAndGlyphs">FN3-epitopes-polyN&#160; in sediment</text>
<line x1="766.3" y1="421.4" x2="766.3" y2="415.0" stroke="#111" stroke-width="1.2"/>
<line x1="763.8" y1="415.0" x2="768.8" y2="415.0" stroke="#111" stroke-width="1.4"/>
<rect x="760.8" y="421.4" width="11.0" height="167.8" fill="url(#hatchF)" stroke="#000" stroke-width="1.6"/>
<rect x="772.8" y="585.8" width="11.0" height="3.4" fill="url(#dots)" stroke="#000" stroke-width="1.6"/>
<line x1="801.4" y1="467.4" x2="801.4" y2="464.0" stroke="#111" stroke-width="1.2"/>
<line x1="798.9" y1="464.0" x2="803.9" y2="464.0" stroke="#111" stroke-width="1.4"/>
<rect x="795.9" y="467.4" width="11.0" height="121.8" fill="url(#hatchF)" stroke="#000" stroke-width="1.6"/>
<line x1="813.4" y1="529.6" x2="813.4" y2="525.9" stroke="#111" stroke-width="1.2"/>
<line x1="810.9" y1="525.9" x2="815.9" y2="525.9" stroke="#111" stroke-width="1.4"/>
<rect x="807.9" y="529.6" width="11.0" height="59.6" fill="url(#dots)" stroke="#000" stroke-width="1.6"/>
<line x1="836.6" y1="493.6" x2="836.6" y2="489.0" stroke="#111" stroke-width="1.2"/>
<line x1="834.1" y1="489.0" x2="839.1" y2="489.0" stroke="#111" stroke-width="1.4"/>
<rect x="831.1" y="493.6" width="11.0" height="95.6" fill="url(#hatchF)" stroke="#000" stroke-width="1.6"/>
<line x1="848.6" y1="498.1" x2="848.6" y2="496.3" stroke="#111" stroke-width="1.2"/>
<line x1="846.1" y1="496.3" x2="851.1" y2="496.3" stroke="#111" stroke-width="1.4"/>
<rect x="843.1" y="498.1" width="11.0" height="91.1" fill="url(#dots)" stroke="#000" stroke-width="1.6"/>
<line x1="871.7" y1="535.2" x2="871.7" y2="532.7" stroke="#111" stroke-width="1.2"/>
<line x1="869.2" y1="532.7" x2="874.2" y2="532.7" stroke="#111" stroke-width="1.4"/>
<rect x="866.2" y="535.2" width="11.0" height="54.0" fill="url(#hatchF)" stroke="#000" stroke-width="1.6"/>
<line x1="883.7" y1="485.6" x2="883.7" y2="479.2" stroke="#111" stroke-width="1.2"/>
<line x1="881.2" y1="479.2" x2="886.2" y2="479.2" stroke="#111" stroke-width="1.4"/>
<rect x="878.2" y="485.6" width="11.0" height="103.6" fill="url(#dots)" stroke="#000" stroke-width="1.6"/>
<rect x="901.4" y="552.1" width="11.0" height="37.1" fill="url(#hatchF)" stroke="#000" stroke-width="1.6"/>
<line x1="918.9" y1="474.2" x2="918.9" y2="470.8" stroke="#111" stroke-width="1.2"/>
<line x1="916.4" y1="470.8" x2="921.4" y2="470.8" stroke="#111" stroke-width="1.4"/>
<rect x="913.4" y="474.2" width="11.0" height="115.0" fill="url(#dots)" stroke="#000" stroke-width="1.6"/>
<line x1="942.0" y1="559.6" x2="942.0" y2="556.2" stroke="#111" stroke-width="1.2"/>
<line x1="939.5" y1="556.2" x2="944.5" y2="556.2" stroke="#111" stroke-width="1.4"/>
<rect x="936.5" y="559.6" width="11.0" height="29.6" fill="url(#hatchF)" stroke="#000" stroke-width="1.6"/>
<line x1="954.0" y1="475.4" x2="954.0" y2="474.0" stroke="#111" stroke-width="1.2"/>
<line x1="951.5" y1="474.0" x2="956.5" y2="474.0" stroke="#111" stroke-width="1.4"/>
<rect x="948.5" y="475.4" width="11.0" height="113.8" fill="url(#dots)" stroke="#000" stroke-width="1.6"/>
<rect x="971.6" y="564.6" width="11.0" height="24.6" fill="url(#hatchF)" stroke="#000" stroke-width="1.6"/>
<line x1="989.1" y1="463.5" x2="989.1" y2="459.0" stroke="#111" stroke-width="1.2"/>
<line x1="986.6" y1="459.0" x2="991.6" y2="459.0" stroke="#111" stroke-width="1.4"/>
<rect x="983.6" y="463.5" width="11.0" height="125.7" fill="url(#dots)" stroke="#000" stroke-width="1.6"/>
<rect x="1006.8" y="566.0" width="11.0" height="23.2" fill="url(#hatchF)" stroke="#000" stroke-width="1.6"/>
<line x1="1024.3" y1="462.8" x2="1024.3" y2="458.3" stroke="#111" stroke-width="1.2"/>
<line x1="1021.8" y1="458.3" x2="1026.8" y2="458.3" stroke="#111" stroke-width="1.4"/>
<rect x="1018.8" y="462.8" width="11.0" height="126.4" fill="url(#dots)" stroke="#000" stroke-width="1.6"/>
<line x1="754.5" y1="359.5" x2="754.5" y2="590.2" stroke="#000" stroke-width="2"/>
<line x1="749.5" y1="589.2" x2="1036" y2="589.2" stroke="#000" stroke-width="2.2"/>
<line x1="749.5" y1="589.2" x2="754.5" y2="589.2" stroke="#000" stroke-width="1.8"/>
<text class="sf" x="747" y="594.5" font-size="15.5" fill="#444" stroke="#444" stroke-width="0.2" text-anchor="end">0</text>
<line x1="749.5" y1="555.1" x2="754.5" y2="555.1" stroke="#000" stroke-width="1.8"/>
<text class="sf" x="747" y="560.3" font-size="15.5" fill="#444" stroke="#444" stroke-width="0.2" text-anchor="end">150000</text>
<line x1="749.5" y1="520.9" x2="754.5" y2="520.9" stroke="#000" stroke-width="1.8"/>
<text class="sf" x="747" y="526.2" font-size="15.5" fill="#444" stroke="#444" stroke-width="0.2" text-anchor="end">300000</text>
<line x1="749.5" y1="486.8" x2="754.5" y2="486.8" stroke="#000" stroke-width="1.8"/>
<text class="sf" x="747" y="492.0" font-size="15.5" fill="#444" stroke="#444" stroke-width="0.2" text-anchor="end">450000</text>
<line x1="749.5" y1="452.6" x2="754.5" y2="452.6" stroke="#000" stroke-width="1.8"/>
<text class="sf" x="747" y="457.9" font-size="15.5" fill="#444" stroke="#444" stroke-width="0.2" text-anchor="end">600000</text>
<line x1="749.5" y1="418.5" x2="754.5" y2="418.5" stroke="#000" stroke-width="1.8"/>
<text class="sf" x="747" y="423.7" font-size="15.5" fill="#444" stroke="#444" stroke-width="0.2" text-anchor="end">750000</text>
<line x1="749.5" y1="384.3" x2="754.5" y2="384.3" stroke="#000" stroke-width="1.8"/>
<text class="sf" x="747" y="389.6" font-size="15.5" fill="#444" stroke="#444" stroke-width="0.2" text-anchor="end">900000</text>
<line x1="772.3" y1="589.2" x2="772.3" y2="594.2" stroke="#000" stroke-width="1.8"/>
<text class="sf" x="766.3" y="613.4" font-size="16" fill="#222" stroke="#222" stroke-width="0.2" text-anchor="middle" transform="rotate(-45 766.3 608.0)">37</text>
<line x1="807.4" y1="589.2" x2="807.4" y2="594.2" stroke="#000" stroke-width="1.8"/>
<text class="sf" x="801.4" y="613.4" font-size="16" fill="#222" stroke="#222" stroke-width="0.2" text-anchor="middle" transform="rotate(-45 801.4 608.0)">40</text>
<line x1="842.6" y1="589.2" x2="842.6" y2="594.2" stroke="#000" stroke-width="1.8"/>
<text class="sf" x="836.6" y="613.4" font-size="16" fill="#222" stroke="#222" stroke-width="0.2" text-anchor="middle" transform="rotate(-45 836.6 608.0)">45</text>
<line x1="877.7" y1="589.2" x2="877.7" y2="594.2" stroke="#000" stroke-width="1.8"/>
<text class="sf" x="871.7" y="613.4" font-size="16" fill="#222" stroke="#222" stroke-width="0.2" text-anchor="middle" transform="rotate(-45 871.7 608.0)">50</text>
<line x1="912.9" y1="589.2" x2="912.9" y2="594.2" stroke="#000" stroke-width="1.8"/>
<text class="sf" x="906.9" y="613.4" font-size="16" fill="#222" stroke="#222" stroke-width="0.2" text-anchor="middle" transform="rotate(-45 906.9 608.0)">55</text>
<line x1="948.0" y1="589.2" x2="948.0" y2="594.2" stroke="#000" stroke-width="1.8"/>
<text class="sf" x="942.0" y="613.4" font-size="16" fill="#222" stroke="#222" stroke-width="0.2" text-anchor="middle" transform="rotate(-45 942.0 608.0)">60</text>
<line x1="983.1" y1="589.2" x2="983.1" y2="594.2" stroke="#000" stroke-width="1.8"/>
<text class="sf" x="977.1" y="613.4" font-size="16" fill="#222" stroke="#222" stroke-width="0.2" text-anchor="middle" transform="rotate(-45 977.1 608.0)">65</text>
<line x1="1018.3" y1="589.2" x2="1018.3" y2="594.2" stroke="#000" stroke-width="1.8"/>
<text class="sf" x="1012.3" y="613.4" font-size="16" fill="#222" stroke="#222" stroke-width="0.2" text-anchor="middle" transform="rotate(-45 1012.3 608.0)">70</text>
<text class="sb" x="833.3" y="638.7" font-size="16.1" fill="#111" textLength="89.0" lengthAdjust="spacingAndGlyphs">Temperature</text>
<path d="M932.7 627.4 Q928.4 634.4 932.7 641.4" fill="none" stroke="#333" stroke-width="1.1"/>
<circle cx="937.4" cy="629.5" r="1.3" fill="none" stroke="#222" stroke-width="0.9"/>
<text class="sf" x="938.0" y="638.7" font-size="15.0" fill="#222" stroke="#222" stroke-width="0.2" textLength="10.9" lengthAdjust="spacingAndGlyphs">C</text>
<path d="M952.8 627.4 Q957.1 634.4 952.8 641.4" fill="none" stroke="#333" stroke-width="1.1"/>
<text class="sb" x="0" y="0" font-size="15.5" fill="#111" text-anchor="middle" textLength="64" lengthAdjust="spacingAndGlyphs" transform="translate(690.5 473.7) rotate(-90)">Intensity</text>
<rect x="760" y="351" width="19" height="9.5" rx="1.5" fill="url(#hatchL)" stroke="#000" stroke-width="2"/>
<rect x="760" y="374.2" width="19" height="9.5" rx="1.5" fill="url(#dots)" stroke="#000" stroke-width="2"/>
<text class="sf" x="792.4" y="360.6" font-size="14" fill="#222" stroke="#222" stroke-width="0.3" textLength="175.4" lengthAdjust="spacingAndGlyphs">other protein in supernatant</text>
<text class="sf" x="792.4" y="383.6" font-size="14" fill="#222" stroke="#222" stroke-width="0.3" textLength="161" lengthAdjust="spacingAndGlyphs">other protein in sediment</text>
</svg>
</body></html>
